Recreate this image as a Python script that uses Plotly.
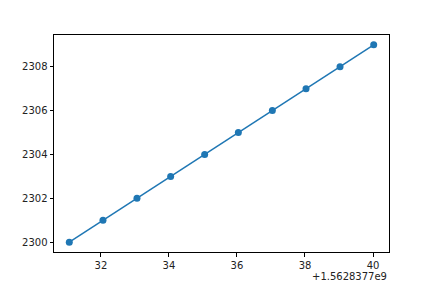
import plotly.graph_objects as go

offset = 1.5628377e9
x_rel = [31.07, 32.06, 33.06, 34.05, 35.05, 36.04, 37.04, 38.03, 39.03, 40.02]
y_vals = [2300, 2301, 2302, 2303, 2304, 2305, 2306, 2307, 2308, 2309]
x_ticks = [32, 34, 36, 38, 40]
y_ticks = [2300, 2302, 2304, 2306, 2308]
offset_label = "+1.5628377e9"

fig = go.Figure()
fig.add_trace(go.Scatter(
    x=x_rel, y=y_vals, mode="lines+markers",
    line=dict(color="#1f77b4", width=1.5),
    marker=dict(color="#1f77b4", size=7),
    showlegend=False,
))

axis_common = dict(
    showgrid=False, zeroline=False, showline=True, linecolor="black",
    linewidth=1, mirror=True, ticks="outside", ticklen=3.5, tickwidth=1,
    tickcolor="black", tickfont=dict(family="DejaVu Sans", size=10, color="#222"),
)
fig.update_xaxes(range=[30.62, 40.47], tickvals=x_ticks,
                 ticktext=[str(t) for t in x_ticks], **axis_common)
fig.update_yaxes(range=[2299.55, 2309.45], tickvals=y_ticks,
                 ticktext=[str(t) for t in y_ticks], **axis_common)

fig.add_annotation(text=offset_label, xref="paper", yref="paper",
                   x=1.0, y=-0.115, xanchor="right", yanchor="middle",
                   showarrow=False,
                   font=dict(family="DejaVu Sans", size=10, color="#222"))

fig.update_layout(
    width=432, height=288,
    margin=dict(l=54, r=43, t=35, b=36),
    paper_bgcolor="white", plot_bgcolor="white",
)
fig.write_html("out.html")
